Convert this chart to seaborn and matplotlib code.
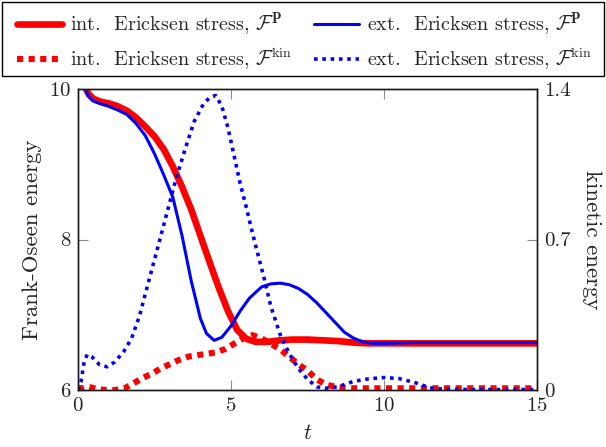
import numpy as np
import pandas as pd
import matplotlib
matplotlib.use("Agg")
import matplotlib.pyplot as plt
from matplotlib.patches import Rectangle
import seaborn as sns

# Frank-Oseen energy (left axis)
t_int_fp = [0, 0.2, 0.35, 0.5, 0.75, 1.0, 1.3, 1.6, 1.9, 2.2, 2.5, 2.8, 3.1, 3.4, 3.7, 4.0,
            4.3, 4.6, 4.9, 5.2, 5.5, 5.8, 6.2, 6.6, 7.0, 7.5, 8.0, 8.5, 9.0, 9.5, 10, 11, 12, 13, 14, 15]
e_int_fp = [10.4, 10.05, 9.93, 9.87, 9.83, 9.81, 9.77, 9.71, 9.62, 9.50, 9.37, 9.2, 8.97, 8.7, 8.4, 8.05,
            7.7, 7.36, 7.05, 6.8, 6.68, 6.64, 6.64, 6.66, 6.67, 6.67, 6.66, 6.65, 6.63, 6.62, 6.62, 6.62,
            6.62, 6.62, 6.62, 6.62]

t_ext_fp = [0, 0.2, 0.35, 0.5, 0.75, 1.0, 1.3, 1.6, 1.9, 2.2, 2.5, 2.8, 3.1, 3.4, 3.7, 4.0, 4.2, 4.45,
            4.7, 5.0, 5.3, 5.6, 6.0, 6.3, 6.6, 6.9, 7.2, 7.5, 7.8, 8.1, 8.4, 8.7, 9.0, 9.3, 9.6, 10, 11,
            12, 13, 14, 15]
e_ext_fp = [10.4, 10.03, 9.9, 9.84, 9.8, 9.77, 9.72, 9.66, 9.54, 9.38, 9.14, 8.86, 8.56, 8.05, 7.45,
            6.95, 6.75, 6.66, 6.7, 6.85, 7.05, 7.22, 7.37, 7.41, 7.42, 7.4, 7.35, 7.27, 7.16, 7.03, 6.9,
            6.77, 6.69, 6.64, 6.62, 6.62, 6.63, 6.63, 6.63, 6.63, 6.63]

# kinetic energy (right axis)
t_int_kin = [0, 0.15, 0.35, 0.6, 0.9, 1.2, 1.5, 1.8, 2.1, 2.4, 2.7, 3.0, 3.3, 3.6, 3.9, 4.2, 4.5, 4.8,
             5.1, 5.4, 5.7, 6.0, 6.3, 6.6, 6.9, 7.2, 7.5, 7.8, 8.1, 8.5, 9, 10, 11, 12, 13, 14, 15]
k_int_kin = [0.01, 0.008, 0.015, 0.005, 0.0, 0.0, 0.006, 0.03, 0.055, 0.075, 0.1, 0.12, 0.14, 0.155,
             0.162, 0.168, 0.175, 0.19, 0.215, 0.24, 0.255, 0.24, 0.215, 0.19, 0.155, 0.12, 0.09, 0.05,
             0.025, 0.012, 0.008, 0.008, 0.008, 0.008, 0.008, 0.008, 0.008]

t_ext_kin = [0, 0.1, 0.2, 0.3, 0.45, 0.7, 0.95, 1.2, 1.5, 1.75, 2.0, 2.3, 2.6, 2.9, 3.2, 3.5, 3.8, 4.1,
             4.3, 4.5, 4.7, 4.9, 5.1, 5.3, 5.5, 5.7, 5.9, 6.1, 6.3, 6.6, 6.9, 7.2, 7.5, 7.8, 8.1, 8.5,
             9.0, 9.5, 10.0, 10.5, 11.0, 11.5, 12, 13, 14, 15]
k_ext_kin = [0, 0.04, 0.13, 0.165, 0.155, 0.118, 0.108, 0.13, 0.18, 0.24, 0.34, 0.5, 0.66, 0.82, 0.98,
             1.12, 1.25, 1.33, 1.36, 1.37, 1.32, 1.22, 1.09, 0.96, 0.85, 0.73, 0.62, 0.51, 0.39, 0.26,
             0.17, 0.1, 0.05, 0.015, 0.008, 0.015, 0.04, 0.052, 0.058, 0.053, 0.035, 0.01, 0.003,
             0.002, 0.002, 0.002]

labels = [r"int.  Ericksen stress, $\mathcal{F}^{\mathbf{P}}$",
          r"ext.  Ericksen stress, $\mathcal{F}^{\mathbf{P}}$",
          r"int.  Ericksen stress, $\mathcal{F}^{\mathrm{kin}}$",
          r"ext.  Ericksen stress, $\mathcal{F}^{\mathrm{kin}}$"]

sns.set_theme(style="ticks")
plt.rcParams["font.family"] = ["cmr10", "DejaVu Serif"]
plt.rcParams["mathtext.fontset"] = "cm"
plt.rcParams["axes.formatter.use_mathtext"] = True

fig = plt.figure(figsize=(6.06, 4.47), dpi=100)
ax = fig.add_axes([78 / 606, 57 / 447, 459 / 606, 301 / 447])
ax2 = ax.twinx()

dot_red = (0, (1, 0.9))
dot_blue = (0, (1, 1.3))

sns.lineplot(x=t_int_fp, y=e_int_fp, ax=ax, color="#ff0000", lw=4.8, sort=False)
sns.lineplot(x=t_ext_fp, y=e_ext_fp, ax=ax, color="#0000ff", lw=2.2, sort=False)
sns.lineplot(x=t_int_kin, y=k_int_kin, ax=ax2, color="#ff0000", lw=4.4, linestyle=dot_red,
             dash_capstyle="butt", sort=False)
sns.lineplot(x=t_ext_kin, y=k_ext_kin, ax=ax2, color="#0000ff", lw=2.6, linestyle=dot_blue,
             dash_capstyle="butt", sort=False)

ax.set_xlim(0, 15)
ax.set_ylim(6, 10)
ax2.set_ylim(0, 1.4)
ax.set_xticks([0, 5, 10, 15])
ax.set_yticks([6, 8, 10])
ax2.set_yticks([0, 0.7, 1.4])
ax2.set_yticklabels(["0", "0.7", "1.4"])

ax.set_xlabel("$t$", fontsize=16, labelpad=6)
ax.set_ylabel("Frank-Oseen energy", fontsize=16.5, labelpad=5)
ax2.set_ylabel("kinetic energy", fontsize=16.5, rotation=270, labelpad=22)

ax.tick_params(axis="both", direction="in", length=7, width=0.8, color="0.55",
               labelsize=15, top=True, pad=5)
ax.tick_params(axis="y", right=False)
ax2.tick_params(axis="y", direction="in", length=7, width=0.8, color="0.55",
                labelsize=15, pad=5)
for a in (ax, ax2):
    for s in a.spines.values():
        s.set_color("0.1")
        s.set_linewidth(1.0)
        s.set_visible(True)

# legend above the axes, boxed
handles = ax.get_lines()[:2] + ax2.get_lines()[:2]
order = [0, 2, 1, 3]
fig.legend([handles[i] for i in order], [labels[i] for i in order], ncol=2,
           loc="center left", bbox_to_anchor=(17 / 606, 1 - 41 / 447), frameon=False,
           fontsize=14.5, handlelength=2.24, handletextpad=0.4, columnspacing=1.1,
           labelspacing=0.45, borderpad=0, borderaxespad=0)
fig.patches.append(Rectangle((2 / 606, 1 - 76 / 447), 602 / 606, 74 / 447,
                             transform=fig.transFigure, fill=False, edgecolor="black", lw=1.0))

fig.savefig("out.png", dpi=100)
